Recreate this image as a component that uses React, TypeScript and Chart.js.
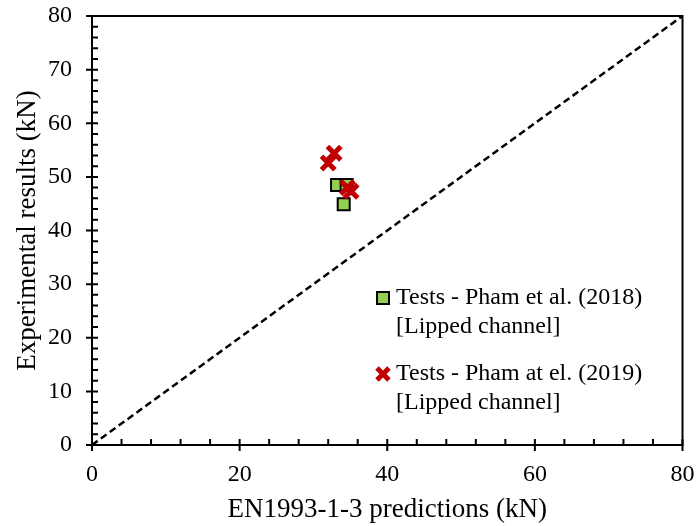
import React, { useEffect, useRef } from "react";
import { Chart, registerables } from "chart.js";

Chart.register(...registerables);

// Predicted vs. measured capacities (kN)
const phamPredicted2018 = [33.2, 34.5, 34.1];
const phamTested2018 = [48.5, 48.5, 44.9];

const phamPredicted2019 = [32.0, 32.8, 34.6, 35.1];
const phamTested2019 = [52.6, 54.4, 48.0, 47.3];

const equalityLine = [0, 80];

const axisTicks = [0, 20, 40, 60, 80];
const yTicks = [0, 10, 20, 30, 40, 50, 60, 70, 80];

const legendLabels = [
  ["Tests - Pham et al. (2018)", "[Lipped channel]"],
  ["Tests - Pham at el. (2019)", "[Lipped channel]"],
];

const FONT = "'Liberation Serif', 'Times New Roman', serif";
const GREEN = "#92D050";
const RED = "#C00000";

// Axis tick marks, frame and in-plot legend
const framePlugin = {
  id: "frameTicks",
  afterDraw(chart: any) {
    const { ctx, chartArea: a, scales } = chart;
    const xs = scales.x;
    const ys = scales.y;
    ctx.save();
    ctx.strokeStyle = "#000";
    ctx.lineWidth = 2;
    ctx.strokeRect(a.left, a.top, a.right - a.left, a.bottom - a.top);

    ctx.lineWidth = 2;
    ctx.beginPath();
    for (let v = 0; v <= 80; v += 4) {
      const px = xs.getPixelForValue(v);
      if (v % 20 === 0) {
        ctx.moveTo(px, a.bottom + 6);
        ctx.lineTo(px, a.bottom - 6);
      } else {
        ctx.moveTo(px, a.bottom);
        ctx.lineTo(px, a.bottom - 6);
      }
    }
    for (let v = 0; v <= 80; v += 2) {
      const py = ys.getPixelForValue(v);
      if (v % 10 === 0) {
        ctx.moveTo(a.left - 6, py);
        ctx.lineTo(a.left + 6, py);
      } else {
        ctx.moveTo(a.left, py);
        ctx.lineTo(a.left + 6, py);
      }
    }
    ctx.stroke();

    // legend
    const lx = a.left + 291;
    const rows = [a.top + 282, a.top + 358];
    ctx.font = `24px ${FONT}`;
    ctx.fillStyle = "#000";
    ctx.textBaseline = "middle";
    ctx.textAlign = "left";
    legendLabels.forEach((lines, i) => {
      const y = rows[i];
      if (i === 0) {
        ctx.fillStyle = GREEN;
        ctx.fillRect(lx - 6, y - 6, 12, 12);
        ctx.lineWidth = 2;
        ctx.strokeStyle = "#000";
        ctx.strokeRect(lx - 6, y - 6, 12, 12);
      } else {
        ctx.strokeStyle = RED;
        ctx.lineWidth = 5;
        ctx.beginPath();
        ctx.moveTo(lx - 6, y - 6);
        ctx.lineTo(lx + 6, y + 6);
        ctx.moveTo(lx + 6, y - 6);
        ctx.lineTo(lx - 6, y + 6);
        ctx.stroke();
      }
      ctx.fillStyle = "#000";
      ctx.fillText(lines[0], lx + 13, y);
      ctx.fillText(lines[1], lx + 13, y + 29);
    });
    ctx.restore();
  },
};

export default function App() {
  const ref = useRef<HTMLCanvasElement>(null);

  useEffect(() => {
    if (!ref.current) return;
    const chart = new Chart(ref.current, {
      type: "scatter",
      data: {
        datasets: [
          {
            type: "line",
            data: equalityLine.map((v) => ({ x: v, y: v })),
            borderColor: "#000",
            borderWidth: 2.5,
            borderDash: [7, 4],
            pointRadius: 0,
            fill: false,
            order: 3,
          },
          {
            data: phamPredicted2018.map((x, i) => ({ x, y: phamTested2018[i] })),
            pointStyle: "rect",
            pointRadius: 8.5,
            backgroundColor: GREEN,
            borderColor: "#000",
            borderWidth: 2,
            order: 2,
          },
          {
            data: phamPredicted2019.map((x, i) => ({ x, y: phamTested2019[i] })),
            pointStyle: "crossRot",
            pointRadius: 9.5,
            borderColor: RED,
            borderWidth: 5,
            order: 1,
          },
        ],
      },
      options: {
        animation: false,
        responsive: false,
        layout: { padding: { top: 16, right: 14, left: 0, bottom: 0 } },
        plugins: { legend: { display: false }, tooltip: { enabled: false } },
        scales: {
          x: {
            type: "linear",
            min: 0,
            max: 80,
            afterBuildTicks: (s: any) => {
              s.ticks = axisTicks.map((value) => ({ value }));
            },
            afterFit: (s: any) => {
              s.height = 81;
              s.paddingLeft = 0;
              s.paddingRight = 0;
            },
            grid: { display: false },
            border: { display: false },
            ticks: {
              color: "#000",
              font: { family: FONT, size: 24 },
              padding: 7,
              maxRotation: 0,
            },
            title: {
              display: true,
              text: "EN1993-1-3 predictions (kN)",
              color: "#000",
              font: { family: FONT, size: 27 },
              padding: { top: 0, bottom: 0 },
            },
          },
          y: {
            type: "linear",
            min: 0,
            max: 80,
            afterBuildTicks: (s: any) => {
              s.ticks = yTicks.map((value) => ({ value }));
            },
            afterFit: (s: any) => {
              s.width = 92;
              s.paddingTop = 0;
              s.paddingBottom = 0;
            },
            grid: { display: false },
            border: { display: false },
            ticks: {
              color: "#000",
              font: { family: FONT, size: 24 },
              padding: 12,
            },
            title: {
              display: true,
              text: "Experimental results (kN)",
              color: "#000",
              font: { family: FONT, size: 27 },
              padding: { top: 12, bottom: 0 },
            },
          },
        },
      },
      plugins: [framePlugin],
    });
    return () => chart.destroy();
  }, []);

  return (
    <div style={{ position: "fixed", left: 0, top: 0, width: 697, height: 526, background: "#fff" }}>
      <canvas ref={ref} width={697} height={526} />
    </div>
  );
}
